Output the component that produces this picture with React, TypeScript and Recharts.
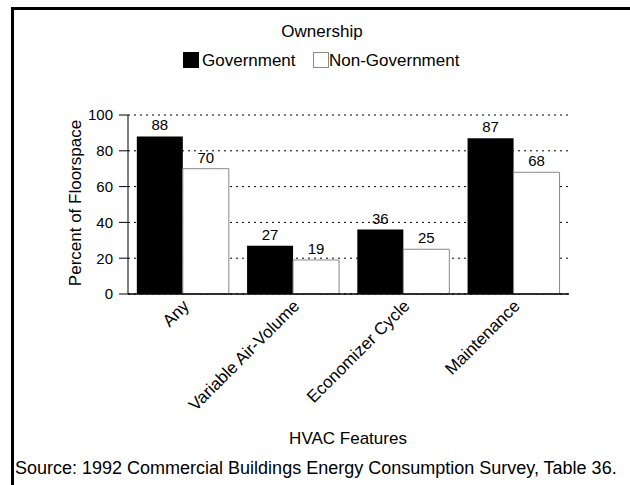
import React from 'react';
import { BarChart, Bar, XAxis, YAxis, CartesianGrid, LabelList } from 'recharts';

const categories = ['Any', 'Variable Air-Volume', 'Economizer Cycle', 'Maintenance'];
const governmentValues = [88, 27, 36, 87];
const nonGovernmentValues = [70, 19, 25, 68];
const yTicks = [0, 20, 40, 60, 80, 100];

const FONT = 'Liberation Sans, Arial, Helvetica, sans-serif';

const data = categories.map((name, i) => ({
  name,
  government: governmentValues[i],
  nonGovernment: nonGovernmentValues[i],
}));

const CategoryTick = (props: any) => {
  const { x, y, payload } = props;
  return (
    <g transform={`translate(${x + 7},${y + 5})`}>
      <text
        x={0}
        y={0}
        textAnchor="end"
        transform="rotate(-45)"
        fontSize={17}
        fontFamily={FONT}
        fill="#000"
      >
        {payload.value}
      </text>
    </g>
  );
};

export default function App() {
  return (
    <div
      style={{
        position: 'fixed',
        left: 0,
        top: 0,
        width: 630,
        height: 485,
        overflow: 'hidden',
        background: '#fff',
        fontFamily: FONT,
        color: '#000',
      }}
    >
      {/* frame, cut off at the right and bottom like the original */}
      <div
        style={{
          position: 'absolute',
          left: 11,
          top: 7,
          width: 700,
          height: 600,
          borderTop: '3px solid #000',
          borderLeft: '3px solid #000',
        }}
      />

      <div style={{ position: 'absolute', left: 0, top: 22, width: 644, textAlign: 'center', fontSize: 17, lineHeight: '20px' }}>
        Ownership
      </div>
      <div style={{ position: 'absolute', left: 183, top: 52, width: 16, height: 16, background: '#000' }} />
      <div style={{ position: 'absolute', left: 202, top: 51, fontSize: 17, lineHeight: '20px' }}>Government</div>
      <div style={{ position: 'absolute', left: 313, top: 52, width: 14, height: 14, background: '#fff', border: '1px solid #888' }} />
      <div style={{ position: 'absolute', left: 329, top: 51, fontSize: 17, lineHeight: '20px' }}>Non-Government</div>

      <div
        style={{
          position: 'absolute',
          left: 76,
          top: 203,
          fontSize: 17,
          lineHeight: '20px',
          whiteSpace: 'nowrap',
          transform: 'translate(-50%, -50%) rotate(-90deg)',
        }}
      >
        Percent of Floorspace
      </div>

      <div style={{ position: 'absolute', left: 248, top: 429, width: 200, textAlign: 'center', fontSize: 17, lineHeight: '20px' }}>
        HVAC Features
      </div>
      <div style={{ position: 'absolute', left: 15, top: 458, fontSize: 18, lineHeight: '21px', whiteSpace: 'nowrap' }}>
        Source: 1992 Commercial Buildings Energy Consumption Survey, Table 36.
      </div>

      <div style={{ position: 'absolute', left: 0, top: 0 }}>
        <BarChart
          width={630}
          height={485}
          data={data}
          margin={{ top: 115, right: 61, left: 0, bottom: 0 }}
          barCategoryGap="8%"
          barGap={0}
        >
          <CartesianGrid vertical={false} stroke="#000" strokeDasharray="2 4" />
          <XAxis
            dataKey="name"
            height={191}
            interval={0}
            tickLine={false}
            axisLine={{ stroke: '#000', strokeWidth: 1.5 }}
            tick={<CategoryTick />}
          />
          <YAxis
            width={128}
            domain={[0, 100]}
            ticks={yTicks}
            interval={0}
            tickSize={9}
            tickMargin={6}
            axisLine={{ stroke: '#000' }}
            tickLine={{ stroke: '#000' }}
            tick={{ fontSize: 15, fill: '#000', fontFamily: FONT }}
          />
          <Bar dataKey="government" fill="#000" isAnimationActive={false}>
            <LabelList dataKey="government" position="top" offset={6} fontSize={15} fill="#000" fontFamily={FONT} />
          </Bar>
          <Bar dataKey="nonGovernment" fill="#fff" stroke="#888" strokeWidth={1} isAnimationActive={false}>
            <LabelList dataKey="nonGovernment" position="top" offset={6} fontSize={15} fill="#000" fontFamily={FONT} />
          </Bar>
        </BarChart>
      </div>
    </div>
  );
}
